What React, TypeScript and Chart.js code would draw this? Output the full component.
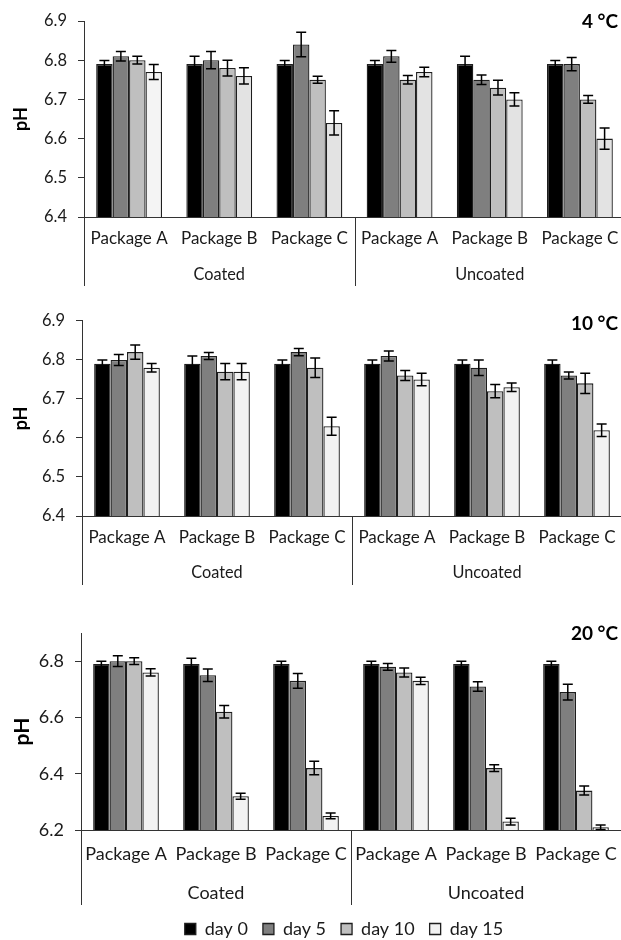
import React, { useEffect, useRef } from "react";
import { Chart, registerables } from "chart.js";

Chart.register(...registerables);

// ---------- data ----------
const CATEGORIES = ["Package A", "Package B", "Package C", "Package A", "Package B", "Package C"];
const GROUPS = ["Coated", "Uncoated"];
const DAYS = ["day 0", "day 5", "day 10", "day 15"];
const PANEL_TITLES = ["4 °C", "10 °C", "20 °C"];
const Y_LABEL = "pH";

const TICKS_4 = [6.4, 6.5, 6.6, 6.7, 6.8, 6.9];
const TICKS_10 = [6.4, 6.5, 6.6, 6.7, 6.8, 6.9];
const TICKS_20 = [6.2, 6.4, 6.6, 6.8];

// 4 °C
const T4_DAY0 = [6.79, 6.79, 6.79, 6.79, 6.79, 6.79];
const T4_DAY5 = [6.81, 6.8, 6.84, 6.81, 6.75, 6.79];
const T4_DAY10 = [6.8, 6.78, 6.75, 6.75, 6.73, 6.7];
const T4_DAY15 = [6.77, 6.76, 6.64, 6.77, 6.7, 6.6];
const T4_ERR0 = [0.009, 0.02, 0.009, 0.009, 0.02, 0.009];
const T4_ERR5 = [0.012, 0.022, 0.031, 0.015, 0.012, 0.017];
const T4_ERR10 = [0.01, 0.02, 0.009, 0.011, 0.019, 0.01];
const T4_ERR15 = [0.019, 0.021, 0.031, 0.012, 0.017, 0.027];

// 10 °C
const T10_DAY0 = [6.79, 6.79, 6.79, 6.79, 6.79, 6.79];
const T10_DAY5 = [6.8, 6.81, 6.82, 6.81, 6.78, 6.76];
const T10_DAY10 = [6.82, 6.77, 6.78, 6.76, 6.72, 6.74];
const T10_DAY15 = [6.78, 6.77, 6.63, 6.75, 6.73, 6.62];
const T10_ERR0 = [0.01, 0.02, 0.01, 0.01, 0.01, 0.01];
const T10_ERR5 = [0.014, 0.009, 0.009, 0.013, 0.02, 0.009];
const T10_ERR10 = [0.018, 0.021, 0.025, 0.013, 0.017, 0.026];
const T10_ERR15 = [0.011, 0.021, 0.023, 0.016, 0.011, 0.016];

// 20 °C
const T20_DAY0 = [6.79, 6.79, 6.79, 6.79, 6.79, 6.79];
const T20_DAY5 = [6.8, 6.75, 6.73, 6.78, 6.71, 6.69];
const T20_DAY10 = [6.8, 6.62, 6.42, 6.76, 6.42, 6.34];
const T20_DAY15 = [6.76, 6.32, 6.25, 6.73, 6.23, 6.21];
const T20_ERR0 = [0.01, 0.02, 0.01, 0.01, 0.01, 0.01];
const T20_ERR5 = [0.019, 0.022, 0.026, 0.012, 0.017, 0.028];
const T20_ERR10 = [0.012, 0.022, 0.024, 0.016, 0.012, 0.016];
const T20_ERR15 = [0.013, 0.011, 0.01, 0.013, 0.012, 0.008];

// ---------- styles ----------
const DAY_COLORS = ["#000000", "#7f7f7f", "#bfbfbf", "#f2f2f2"];
const P1_DAY15_COLORS = ["#f4f4f4", "#e3e3e3", "#e3e3e3", "#e3e3e3", "#e3e3e3", "#e3e3e3"];
const AXIS = "#333333";
const TEXT = "#1a1a1a";
const FONT = "Lato, 'Open Sans', sans-serif";
const CANVAS_W = 630;

type PanelCfg = {
  top: number;
  height: number;
  areaTop: number;
  padBottom: number;
  xAxisH: number;
  left: number;
  right: number;
  ticks: number[];
  series: number[][];
  errors: number[][];
  day15Colors?: string[];
  title: string;
  titleY: number;
  tickFont: number;
  yFont: number;
  groupFont: number;
  pHFont: number;
  labelPad: number;
  groupY: number;
  lineBottom: number;
  legend: boolean;
  legendShift: number;
};

const PANELS: PanelCfg[] = [
  {
    top: 0, height: 300, areaTop: 21, padBottom: 0, xAxisH: 83,
    left: 84, right: 625, ticks: TICKS_4,
    series: [T4_DAY0, T4_DAY5, T4_DAY10, T4_DAY15],
    errors: [T4_ERR0, T4_ERR5, T4_ERR10, T4_ERR15],
    day15Colors: P1_DAY15_COLORS,
    title: PANEL_TITLES[0], titleY: 22, tickFont: 17, yFont: 16.5, groupFont: 16.3, pHFont: 18,
    labelPad: 11, groupY: 275, lineBottom: 286, legend: false, legendShift: 0,
  },
  {
    top: 300, height: 300, areaTop: 19, padBottom: 0, xAxisH: 84,
    left: 82, right: 622, ticks: TICKS_10,
    series: [T10_DAY0, T10_DAY5, T10_DAY10, T10_DAY15],
    errors: [T10_ERR0, T10_ERR5, T10_ERR10, T10_ERR15],
    title: PANEL_TITLES[1], titleY: 24, tickFont: 17, yFont: 16.5, groupFont: 16.3, pHFont: 18,
    labelPad: 11, groupY: 273, lineBottom: 285, legend: false, legendShift: 0,
  },
  {
    top: 600, height: 348, areaTop: 33, padBottom: 0, xAxisH: 75,
    left: 81, right: 627, ticks: TICKS_20,
    series: [T20_DAY0, T20_DAY5, T20_DAY10, T20_DAY15],
    errors: [T20_ERR0, T20_ERR5, T20_ERR10, T20_ERR15],
    title: PANEL_TITLES[2], titleY: 34, tickFont: 18, yFont: 18, groupFont: 18, pHFont: 21,
    labelPad: 13, groupY: 293, lineBottom: 305, legend: true, legendShift: -7,
  },
];

function Panel({ cfg }: { cfg: PanelCfg }) {
  const ref = useRef<HTMLCanvasElement | null>(null);

  useEffect(() => {
    const canvas = ref.current;
    if (!canvas) return;

    const decoPlugin = {
      id: "panelDeco",
      afterLayout(chart: any) {
        if (cfg.legend && chart.legend) {
          chart.legend.left += cfg.legendShift;
          chart.legend.right += cfg.legendShift;
        }
      },
      afterDatasetsDraw(chart: any) {
        const ctx = chart.ctx;
        const yScale = chart.scales.y;
        ctx.save();
        ctx.strokeStyle = "#000";
        ctx.lineWidth = 1.5;
        cfg.series.forEach((vals, d) => {
          const meta = chart.getDatasetMeta(d);
          meta.data.forEach((bar: any, i: number) => {
            const err = cfg.errors[d][i];
            const x = bar.x;
            const yHi = yScale.getPixelForValue(vals[i] + err);
            const yLo = yScale.getPixelForValue(vals[i] - err);
            ctx.beginPath();
            ctx.moveTo(x, yHi);
            ctx.lineTo(x, yLo);
            ctx.moveTo(x - 5, yHi);
            ctx.lineTo(x + 5, yHi);
            ctx.moveTo(x - 5, yLo);
            ctx.lineTo(x + 5, yLo);
            ctx.stroke();
          });
        });
        ctx.restore();
      },
      afterDraw(chart: any) {
        const ctx = chart.ctx;
        const area = chart.chartArea;
        const xScale = chart.scales.x;
        const perGroup = CATEGORIES.length / GROUPS.length;
        ctx.save();
        ctx.strokeStyle = AXIS;
        ctx.lineWidth = 1;
        const bounds: number[] = [];
        for (let g = 0; g <= GROUPS.length; g++) {
          const idx = g * perGroup;
          let x: number;
          if (idx === 0) x = area.left;
          else if (idx >= CATEGORIES.length) x = area.right;
          else x = (xScale.getPixelForValue(idx - 1) + xScale.getPixelForValue(idx)) / 2;
          bounds.push(x);
          const px = Math.round(x) + 0.5;
          ctx.beginPath();
          ctx.moveTo(px, area.bottom);
          ctx.lineTo(px, cfg.lineBottom);
          ctx.stroke();
        }
        ctx.fillStyle = TEXT;
        ctx.font = `${cfg.groupFont}px ${FONT}`;
        ctx.textAlign = "center";
        ctx.textBaseline = "middle";
        GROUPS.forEach((g, i) => {
          ctx.fillText(g, (bounds[i] + bounds[i + 1]) / 2, cfg.groupY);
        });
        ctx.fillStyle = "#000";
        ctx.font = `bold 19px ${FONT}`;
        ctx.textAlign = "right";
        ctx.fillText(cfg.title, 618, cfg.titleY);
        ctx.restore();
      },
    };

    const chart = new Chart(canvas, {
      type: "bar",
      data: {
        labels: CATEGORIES,
        datasets: cfg.series.map((vals, d) => ({
          label: DAYS[d],
          data: vals,
          backgroundColor: d === 3 && cfg.day15Colors ? cfg.day15Colors : DAY_COLORS[d],
          borderColor: "#1e1e1e",
          borderWidth: 1.3,
          categoryPercentage: 0.73,
          barPercentage: 1,
        })),
      },
      options: {
        animation: false,
        responsive: false,
        devicePixelRatio: 1,
        layout: {
          padding: { top: cfg.areaTop, left: 0, right: CANVAS_W - cfg.right, bottom: cfg.padBottom },
        },
        plugins: {
          tooltip: { enabled: false },
          title: { display: false },
          legend: {
            display: cfg.legend,
            position: "bottom",
            fullSize: false,
            labels: {
              boxWidth: 11,
              boxHeight: 11,
              padding: 15,
              color: TEXT,
              font: { family: FONT, size: 18 },
            },
          },
        },
        scales: {
          x: {
            type: "category",
            offset: true,
            grid: { display: false, drawTicks: false, tickLength: 0 },
            border: { display: true, color: AXIS, width: 1 },
            ticks: {
              autoSkip: false,
              maxRotation: 0,
              minRotation: 0,
              padding: cfg.labelPad,
              color: TEXT,
              font: { family: FONT, size: cfg.tickFont },
            },
            afterFit: (scale: any) => {
              scale.height = cfg.xAxisH;
            },
          },
          y: {
            min: cfg.ticks[0],
            max: 6.9,
            grid: { display: true, drawOnChartArea: false, drawTicks: true, tickLength: 6, color: AXIS },
            border: { display: true, color: AXIS, width: 1 },
            ticks: {
              padding: 11,
              color: TEXT,
              font: { family: FONT, size: cfg.yFont },
              callback: (v: any) => Number(v).toFixed(1),
            },
            afterBuildTicks: (axis: any) => {
              axis.ticks = cfg.ticks.map((v) => ({ value: v }));
            },
            afterFit: (scale: any) => {
              scale.width = cfg.left;
            },
            title: {
              display: true,
              text: Y_LABEL,
              color: "#000",
              font: { family: FONT, size: cfg.pHFont, weight: "bold" },
              padding: { top: 10, bottom: 0 },
            },
          },
        },
      },
      plugins: [decoPlugin],
    } as any);

    return () => chart.destroy();
  }, [cfg]);

  return (
    <div style={{ position: "absolute", left: 0, top: cfg.top, width: CANVAS_W, height: cfg.height }}>
      <canvas ref={ref} width={CANVAS_W} height={cfg.height} style={{ display: "block", width: CANVAS_W, height: cfg.height }} />
    </div>
  );
}

export default function App() {
  return (
    <div
      style={{
        position: "absolute",
        left: 0,
        top: 0,
        width: 621,
        height: 940,
        overflow: "hidden",
        background: "#ffffff",
      }}
    >
      {PANELS.map((cfg, i) => (
        <Panel key={i} cfg={cfg} />
      ))}
    </div>
  );
}
